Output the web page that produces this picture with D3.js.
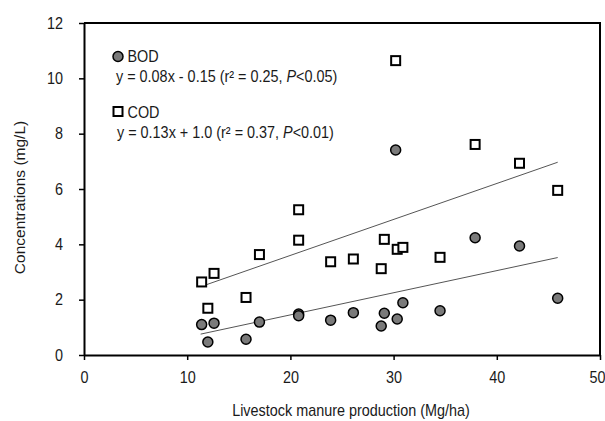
<!DOCTYPE html>
<html>
<head>
<meta charset="utf-8">
<script src="https://cdn.jsdelivr.net/npm/d3@7"></script>
<style>
  body { margin: 0; background: #fff; }
  svg { display: block; font-family: "Liberation Sans", Arial, sans-serif; }
</style>
</head>
<body>
<div id="chart"></div>
<script>
// livestock manure production per site (Mg/ha)
const manure = [11.4, 12.0, 12.6, 15.7, 17.0, 20.8, 20.8, 23.9, 26.1, 28.8, 29.1, 30.2, 30.35, 30.9, 34.5, 37.9, 42.2, 45.9];
const bod = [1.10, 0.47, 1.15, 0.57, 1.19, 1.48, 1.42, 1.26, 1.53, 1.05, 1.51, 7.41, 1.30, 1.89, 1.60, 4.24, 3.94, 2.05];
const cod = [2.64, 1.69, 2.95, 2.08, 3.63, 5.25, 4.15, 3.37, 3.47, 3.12, 4.18, 10.64, 3.82, 3.89, 3.53, 7.61, 6.93, 5.95];

// regression: [slope, intercept] and x extent of the drawn line
const bodFit = [0.08, -0.15];
const codFit = [0.13, 1.0];
const bodFitRange = [11.3, 45.9];
const codFitRange = [11.8, 45.9];

const xTicks = [0, 10, 20, 30, 40, 50];
const yTicks = [0, 2, 4, 6, 8, 10, 12];

const xLabel = 'Livestock manure production (Mg/ha)';
const yLabel = 'Concentrations (mg/L)';
const bodName = 'BOD';
const codName = 'COD';
const bodEq = ['y = 0.08x - 0.15 (r\u00B2 = 0.25, ', 'P', '<0.05)'];
const codEq = ['y = 0.13x + 1.0 (r\u00B2 = 0.37, ', 'P', '<0.01)'];

const W = 605;
const H = 421;
const margin = { top: 23, right: 5, bottom: 66, left: 84 };
const width = W - margin.left - margin.right;
const height = H - margin.top - margin.bottom;
const squeeze = 'scale(0.9,1)';
const ink = '#1a1a1a';

const svg = d3.select('#chart')
  .append('svg')
  .attr('width', W)
  .attr('height', H);

const g = svg.append('g')
  .attr('transform', `translate(${margin.left}, ${margin.top})`);

const x = d3.scaleLinear().domain([0, 50]).range([0, width]);
const y = d3.scaleLinear().domain([0, 12]).range([height, 0]);

// frame: top and right
g.append('path')
  .attr('d', `M0,0H${width}V${height}`)
  .attr('fill', 'none')
  .attr('stroke', '#000')
  .attr('stroke-width', 2);

const axisBottom = g.append('g')
  .attr('transform', `translate(0, ${height})`)
  .call(d3.axisBottom(x).tickValues(xTicks).tickSize(5).tickSizeOuter(0).tickPadding(11.5));

const axisLeft = g.append('g')
  .call(d3.axisLeft(y).tickValues(yTicks).tickSize(5).tickSizeOuter(0));

[axisBottom, axisLeft].forEach((ax) => {
  ax.select('.domain').attr('stroke', '#000').attr('stroke-width', 2);
  ax.selectAll('.tick line').attr('stroke', '#000').attr('stroke-width', 1.5);
  ax.selectAll('text')
    .attr('font-size', 16)
    .attr('fill', ink);
});

// last label sits against the page edge, nudge it in
axisBottom.selectAll('text')
  .attr('transform', d => (d === 50 ? `translate(-3, 0) ${squeeze}` : squeeze));

axisLeft.selectAll('text')
  .attr('x', 0)
  .attr('transform', `translate(-21, 0) ${squeeze}`);

// regression lines
const fitLine = (fit, range) => g.append('line')
  .attr('x1', x(range[0]))
  .attr('y1', y(fit[0] * range[0] + fit[1]))
  .attr('x2', x(range[1]))
  .attr('y2', y(fit[0] * range[1] + fit[1]))
  .attr('stroke', '#555')
  .attr('stroke-width', 1);

fitLine(codFit, codFitRange);
fitLine(bodFit, bodFitRange);

const sq = 9;

g.selectAll('.cod')
  .data(manure.map((m, i) => [m, cod[i]]))
  .enter()
  .append('rect')
  .attr('class', 'cod')
  .attr('x', d => x(d[0]) - sq / 2)
  .attr('y', d => y(d[1]) - sq / 2)
  .attr('width', sq)
  .attr('height', sq)
  .attr('fill', '#fff')
  .attr('stroke', '#000')
  .attr('stroke-width', 2);

g.selectAll('.bod')
  .data(manure.map((m, i) => [m, bod[i]]))
  .enter()
  .append('circle')
  .attr('class', 'bod')
  .attr('cx', d => x(d[0]))
  .attr('cy', d => y(d[1]))
  .attr('r', 5)
  .attr('fill', '#7a7a7a')
  .attr('stroke', '#000')
  .attr('stroke-width', 1.5);

// legend
const label = (tx, ty, parts) => {
  const t = svg.append('text')
    .attr('transform', `translate(${tx}, ${ty}) ${squeeze}`)
    .attr('font-size', 16)
    .attr('fill', ink);
  parts.forEach((p, i) => {
    t.append('tspan')
      .attr('font-style', i === 1 ? 'italic' : 'normal')
      .text(p);
  });
  return t;
};

svg.append('circle')
  .attr('cx', 118)
  .attr('cy', 56.5)
  .attr('r', 5)
  .attr('fill', '#7a7a7a')
  .attr('stroke', '#000')
  .attr('stroke-width', 1.5);
label(127.5, 62, [bodName]);
label(116, 82, bodEq);

svg.append('rect')
  .attr('x', 118 - sq / 2)
  .attr('y', 111.5 - sq / 2)
  .attr('width', sq)
  .attr('height', sq)
  .attr('fill', '#fff')
  .attr('stroke', '#000')
  .attr('stroke-width', 2);
label(127.5, 117.5, [codName]);
label(117, 138, codEq);

// axis titles
svg.append('text')
  .attr('transform', `translate(351, 416) ${squeeze}`)
  .attr('text-anchor', 'middle')
  .attr('font-size', 16)
  .attr('fill', ink)
  .text(xLabel);

svg.append('text')
  .attr('transform', 'translate(25, 197.5) rotate(-90)')
  .attr('text-anchor', 'middle')
  .attr('font-size', 15.5)
  .attr('fill', ink)
  .text(yLabel);
</script>
</body>
</html>
